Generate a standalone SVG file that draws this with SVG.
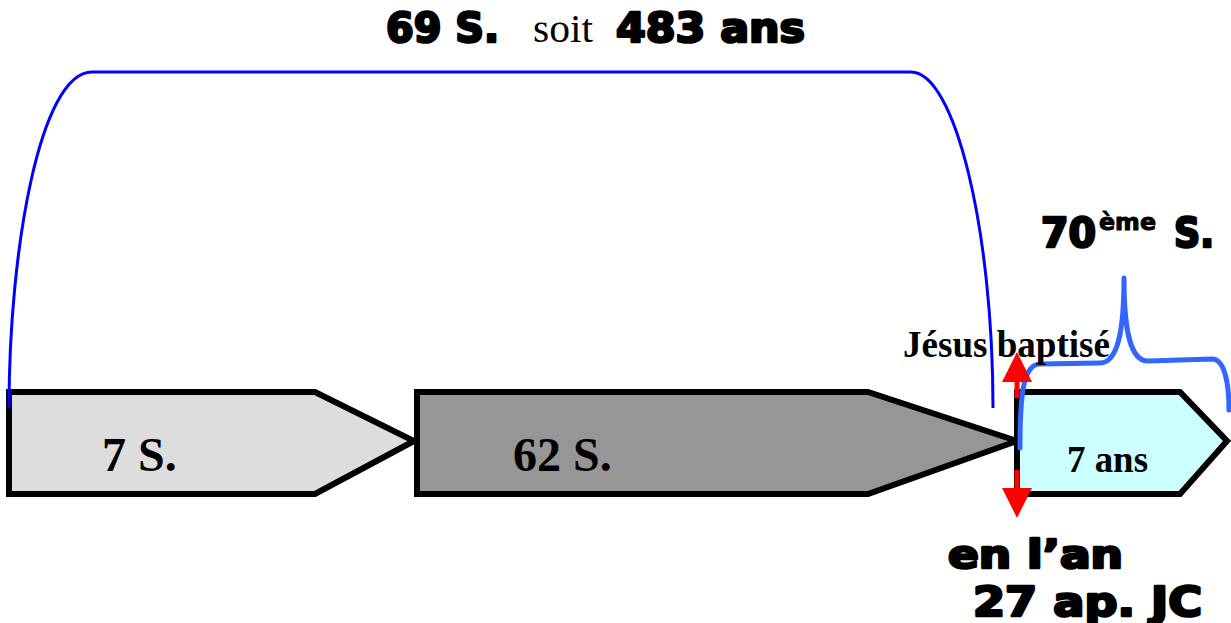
<svg xmlns="http://www.w3.org/2000/svg" width="1231" height="623" viewBox="0 0 1231 623">
<style>
.box{stroke:#000;stroke-width:6;stroke-linejoin:miter}
.lbl{font-family:"Liberation Serif","Times New Roman",serif;font-weight:bold;fill:#000}
.heavy{font-family:"DejaVu Sans","Liberation Sans",sans-serif;font-weight:bold;fill:#000;stroke:#000;stroke-width:2.6;stroke-linejoin:round}
.sup{stroke-width:1}
.serif{font-family:"Liberation Serif","Times New Roman",serif;fill:#000}
.red{stroke:#ff0000;stroke-width:5}
</style>
<rect width="1231" height="623" fill="#fff"/>
<g id="title">
<text class="heavy" x="386" y="42" font-size="41" textLength="113" lengthAdjust="spacingAndGlyphs">69 S.</text>
<text class="serif" x="533" y="42" font-size="40" textLength="60" lengthAdjust="spacingAndGlyphs">soit</text>
<text class="heavy" x="616" y="42" font-size="41" textLength="189" lengthAdjust="spacingAndGlyphs">483 ans</text>
</g>
<g id="n7s">
<polygon class="box" fill="#dddddd" points="9,392 315,392 414,441 315,494 9,494"/>
<text class="lbl" x="102" y="471" font-size="48">7 S.</text>
</g>
<g id="n62s">
<polygon class="box" fill="#969696" points="417,392 868,392 1017,441 868,494 417,494"/>
<text class="lbl" x="513" y="471" font-size="48">62 S.</text>
</g>
<g id="n7ans">
<polygon class="box" fill="#ccffff" points="1017,392 1180,392 1227,441 1180,494 1017,494"/>
<text class="lbl" x="1067" y="472" font-size="37" textLength="81" lengthAdjust="spacingAndGlyphs">7 ans</text>
</g>
<g id="connectors" fill="none">
<path d="M9,408 C9,250 40,72 92,72 L911,72 C955,72 993,230 993,408" stroke="#0000ff" stroke-width="3"/>
<path d="M1020,448 C1020,400 1022,364 1040,364 L1100,363 C1118,363 1124,330 1124,278 C1124,330 1130,361 1148,361 L1212,359 C1225,359 1229,385 1229,410" stroke="#3366ff" stroke-width="5" stroke-linecap="round" stroke-linejoin="round"/>
<line class="red" x1="1017" y1="378" x2="1017" y2="398"/>
<polygon fill="#ff0000" points="1017,352 1032,382 1002,382"/>
<line class="red" x1="1017" y1="470" x2="1017" y2="490"/>
<polygon fill="#ff0000" points="1017,518 1032,488 1002,488"/>
</g>
<g id="labels">
<text class="lbl" x="903" y="357" font-size="37" textLength="207" lengthAdjust="spacingAndGlyphs">Jésus baptisé</text>
<text class="heavy" x="1041" y="247" font-size="41" textLength="55" lengthAdjust="spacingAndGlyphs">70</text>
<text class="heavy sup" x="1099" y="230" font-size="23" textLength="57" lengthAdjust="spacingAndGlyphs">ème</text>
<text class="heavy" x="1174" y="247" font-size="41" textLength="40" lengthAdjust="spacingAndGlyphs">S.</text>
<text class="heavy" x="948" y="568" font-size="39" textLength="175" lengthAdjust="spacingAndGlyphs">en l’an</text>
<text class="heavy" x="973" y="616" font-size="40" textLength="229" lengthAdjust="spacingAndGlyphs">27 ap. JC</text>
</g>
</svg>
